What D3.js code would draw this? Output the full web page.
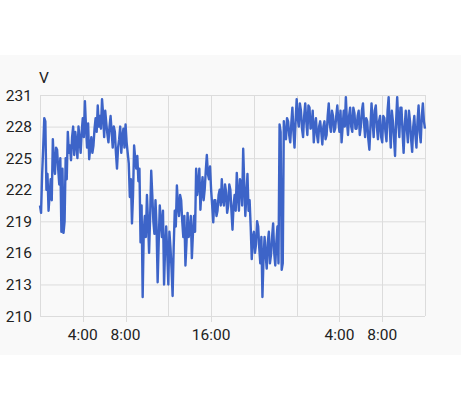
<!DOCTYPE html>
<html><head><meta charset="utf-8">
<script src="https://cdn.jsdelivr.net/npm/d3@7"></script>
<style>html,body{margin:0;padding:0;background:#fff;}svg{display:block;}</style>
</head><body>
<svg id="chart" width="461" height="415"></svg>
<script>
// Voltage readings, one every 6 minutes, starting at 0:00 (36 hours)
const startTime = new Date(2024, 0, 1, 0, 0);
const stepMinutes = 6;
const voltage = [
 220.5,219.8,223.5,226.0,228.8,228.5,222.0,223.5,220.0,221.5,
 223.0,221.0,226.8,224.5,223.5,226.0,225.8,224.0,222.5,225.0,
 218.0,224.0,217.9,219.0,225.0,223.0,227.5,225.5,226.2,224.8,
 227.0,228.0,225.3,227.5,226.5,225.0,228.0,226.8,225.5,227.5,
 228.8,227.0,230.4,228.0,226.0,228.3,224.9,226.0,227.0,225.5,
 226.2,227.8,228.8,227.5,230.0,228.0,229.0,227.8,230.6,229.2,
 227.0,229.5,228.3,227.3,226.5,228.0,229.0,227.5,226.0,228.0,
 227.5,225.5,224.0,226.0,226.8,228.0,225.5,227.0,227.8,226.0,
 228.2,226.5,225.5,224.5,221.3,223.0,218.8,221.5,226.2,225.0,
 224.0,225.2,222.8,224.0,217.0,220.5,211.8,218.0,219.5,217.5,
 221.5,219.0,216.0,219.5,223.8,221.5,219.0,217.8,221.0,218.5,
 213.2,217.0,220.5,219.0,217.5,220.0,213.0,216.5,218.5,216.0,
 213.0,218.0,216.5,214.5,211.9,216.5,220.0,218.5,222.4,220.5,
 219.5,221.5,221.0,219.0,217.5,219.5,214.8,217.0,219.8,217.5,
 218.0,219.5,215.5,217.8,219.5,218.0,224.0,221.5,222.5,224.0,
 220.1,222.0,223.2,221.0,222.0,223.8,225.3,223.5,223.0,224.2,
 222.0,220.5,218.9,221.0,221.0,219.5,220.0,221.5,222.0,220.5,
 223.0,221.0,220.5,222.5,221.8,219.8,220.5,222.5,222.0,220.0,
 218.2,220.5,221.5,220.0,223.6,221.5,220.0,223.0,222.5,220.5,
 225.9,222.5,219.5,221.5,223.5,220.0,221.0,218.5,215.4,217.5,
 218.0,216.0,216.8,219.0,218.5,216.5,215.0,217.5,211.8,215.5,
 217.5,215.8,214.5,217.0,218.0,215.0,215.8,217.5,218.8,216.0,
 214.8,217.0,218.5,215.0,228.2,227.5,214.4,215.0,228.5,227.0,
 226.8,228.8,228.5,227.2,226.5,228.3,229.8,227.5,226.0,228.5,
 230.6,228.8,228.0,230.2,229.5,227.8,227.0,229.0,230.2,228.5,
 227.2,230.0,229.8,227.8,228.0,229.5,226.5,228.0,228.8,227.2,
 226.5,228.0,228.5,227.5,226.3,228.0,228.5,226.8,227.2,229.0,
 230.2,228.2,227.5,229.5,229.0,227.5,227.8,229.0,230.0,228.5,
 227.5,229.5,226.5,228.0,229.5,228.0,230.8,228.5,227.2,229.0,
 229.8,228.0,227.5,229.8,229.3,227.8,227.8,229.0,229.5,227.2,
 228.0,229.5,230.2,228.3,227.0,228.8,228.5,226.8,225.8,228.0,
 230.2,228.5,227.0,229.5,230.0,228.0,226.8,228.5,229.0,227.0,
 226.5,229.0,228.8,227.5,226.6,229.5,230.8,228.0,226.0,229.5,
 228.5,227.0,225.2,228.5,230.8,228.5,227.0,229.8,229.8,227.5,
 225.5,228.0,229.5,227.8,226.5,229.5,228.5,226.8,225.6,228.0,
 229.0,227.2,226.0,228.5,230.0,227.5,226.5,229.0,230.2,228.5,
 227.8
];
const yTicks = [210, 213, 216, 219, 222, 225, 228, 231];
const gridHours = [0, 4, 8, 12, 16, 20, 24, 28, 32, 36];
const labelHours = [4, 8, 16, 28, 32];
const labelTexts = ["4:00", "8:00", "16:00", "4:00", "8:00"];
const unitLabel = "V";

const svg = d3.select("#chart");
const W = 461, H = 415;
const m = {left: 40, right: 36, top: 95, bottom: 99};
const iw = W - m.left - m.right, ih = H - m.top - m.bottom;

svg.append("rect").attr("x", 0).attr("y", 55).attr("width", W).attr("height", 300).attr("fill", "#f9f9f9");

const hourDate = h => new Date(startTime.getTime() + h * 3600000);
const x = d3.scaleTime().domain([hourDate(0), hourDate(36)]).range([m.left, m.left + iw]);
const y = d3.scaleLinear().domain([210, 231]).range([m.top + ih, m.top]);

const g = svg.append("g");
g.selectAll("line.hg").data(yTicks).enter().append("line")
  .attr("x1", m.left).attr("x2", m.left + iw)
  .attr("y1", d => y(d) + 0.5).attr("y2", d => y(d) + 0.5)
  .attr("stroke", "#dcdcdc").attr("stroke-width", 1);
g.selectAll("line.vg").data(gridHours).enter().append("line")
  .attr("x1", d => Math.round(x(hourDate(d))) + 0.5).attr("x2", d => Math.round(x(hourDate(d))) + 0.5)
  .attr("y1", m.top).attr("y2", m.top + ih)
  .attr("stroke", "#dcdcdc").attr("stroke-width", 1);
g.selectAll("line.tk").data(labelHours).enter().append("line")
  .attr("x1", d => Math.round(x(hourDate(d))) + 0.5).attr("x2", d => Math.round(x(hourDate(d))) + 0.5)
  .attr("y1", m.top + ih).attr("y2", m.top + ih + 6)
  .attr("stroke", "#dcdcdc").attr("stroke-width", 1);

g.selectAll("text.yl").data(yTicks).enter().append("text")
  .attr("x", 32).attr("y", d => y(d)).attr("dy", "0.36em")
  .attr("text-anchor", "end").attr("font-family", "Roboto, sans-serif")
  .attr("font-size", 15.5).attr("fill", "#222").text(d => d);
g.selectAll("text.xl").data(labelHours).enter().append("text")
  .attr("x", d => x(hourDate(d))).attr("y", 340)
  .attr("text-anchor", "middle").attr("font-family", "Roboto, sans-serif")
  .attr("font-size", 15.5).attr("fill", "#222").text((d, i) => labelTexts[i]);
svg.append("text").attr("x", 39).attr("y", 83).attr("font-family", "Roboto, sans-serif")
  .attr("font-size", 15.5).attr("fill", "#222").text(unitLabel);

const data = voltage.map((v, i) => ({t: new Date(startTime.getTime() + i * stepMinutes * 60000), v}));
const line = d3.line().x(d => x(d.t)).y(d => y(d.v));
svg.append("path").datum(data).attr("d", line)
  .attr("fill", "none").attr("stroke", "#3d64c8").attr("stroke-width", 2.4)
  .attr("stroke-linejoin", "round");
</script>
</body></html>
